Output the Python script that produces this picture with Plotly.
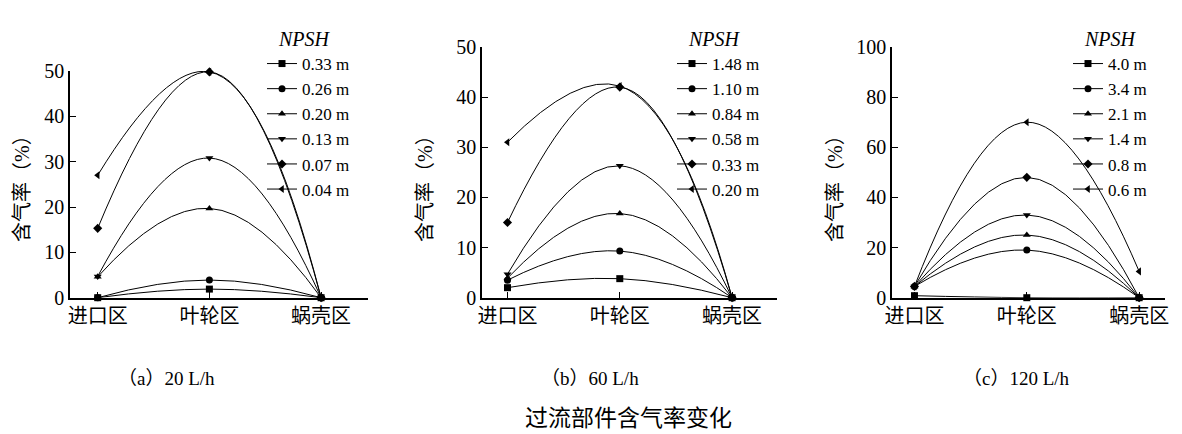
import plotly.graph_objects as go

# categories along the flow path
categories = ["进口区", "叶轮区", "蜗壳区"]

# (a) 20 L/h
npsh_a = ["0.33 m", "0.26 m", "0.20 m", "0.13 m", "0.07 m", "0.04 m"]
void_a = [
    [0.0, 1.9, 0.0],
    [0.0, 3.9, 0.0],
    [4.6, 19.7, 0.0],
    [4.7, 30.8, 0.0],
    [15.3, 49.8, 0.0],
    [27.0, 49.8, 0.0],
]

# (b) 60 L/h
npsh_b = ["1.48 m", "1.10 m", "0.84 m", "0.58 m", "0.33 m", "0.20 m"]
void_b = [
    [2.0, 3.8, 0.0],
    [3.5, 9.3, 0.0],
    [3.9, 16.8, 0.0],
    [4.7, 26.3, 0.0],
    [15.0, 42.0, 0.0],
    [31.0, 42.2, 0.0],
]

# (c) 120 L/h
npsh_c = ["4.0 m", "3.4 m", "2.1 m", "1.4 m", "0.8 m", "0.6 m"]
void_c = [
    [0.8, 0.0, 0.0],
    [4.5, 19.0, 0.0],
    [4.5, 25.0, 0.0],
    [4.5, 33.0, 0.0],
    [4.5, 48.0, 0.0],
    [4.5, 70.0, 10.5],
]

captions = ["（a）20 L/h", "（b）60 L/h", "（c）120 L/h"]
title = "过流部件含气率变化"
ytitle = "含气率（%）"

SYMBOLS = ["square", "circle", "triangle-up", "triangle-down", "diamond", "triangle-left"]
SERIF = "Liberation Serif"
CJK = "Liberation Serif, Noto Sans CJK SC"

# page body keeps an 8px margin, so the figure is a bit smaller than the window
PAD = 8
W, H = 1182 - PAD, 434 - PAD


def px_x(px):
    return (px - PAD) / W


def px_y(px):
    return 1 - (px - PAD) / H


panels = [
    # names, values, x-domain px, top px, x-range, y-max, dtick, legend x px, ylabel x px, caption x px
    (npsh_a, void_a, (70, 368), 71, [-0.248, 2.42], 50, 10, 262, 22, 166),
    (npsh_b, void_b, (482, 777), 47, [-0.227, 2.40], 50, 10, 672, 425, 590),
    (npsh_c, void_c, (892, 1165), 47, [-0.20, 2.23], 100, 20, 1068, 835, 1016),
]

fig = go.Figure()
layout = {}
annotations = []
zero_px = 297.7

for p, (names, vals, xd, top, xr, ymax, dt, lx, ylx, capx) in enumerate(panels):
    sfx = "" if p == 0 else str(p + 1)
    for i, (name, v) in enumerate(zip(names, vals)):
        fig.add_trace(go.Scatter(
            x=categories, y=v, name=name, mode="lines+markers",
            line=dict(color="black", width=1, shape="spline", smoothing=1.3),
            marker=dict(symbol=SYMBOLS[i], size=7, color="black"),
            xaxis="x" + sfx, yaxis="y" + sfx, legend="legend" + sfx,
            cliponaxis=False,
        ))
    layout["xaxis" + sfx] = dict(
        domain=[px_x(xd[0]), px_x(xd[1])], anchor="y" + sfx, type="category",
        range=xr, showline=True, linecolor="black", linewidth=1.5,
        ticks="inside", ticklen=6, tickcolor="black", showgrid=False, zeroline=False,
        tickfont=dict(family=CJK, size=20, color="black"),
    )
    layout["yaxis" + sfx] = dict(
        domain=[px_y(zero_px), px_y(top)], anchor="x" + sfx,
        range=[0, ymax], dtick=dt, showline=True, linecolor="black", linewidth=1.5,
        ticks="inside", ticklen=6, tickcolor="black", showgrid=False, zeroline=False,
        tickfont=dict(family=SERIF, size=20, color="black"),
    )
    layout["legend" + sfx] = dict(
        x=px_x(lx), y=px_y(20), xanchor="left", yanchor="top",
        bgcolor="rgba(0,0,0,0)", itemwidth=30, tracegroupgap=0,
        title=dict(text="&nbsp;&nbsp;&nbsp;<i>NPSH</i>",
                   font=dict(family=SERIF, size=20, color="black")),
        font=dict(family=SERIF, size=17, color="black"),
    )
    annotations.append(dict(
        text=ytitle, textangle=-90, x=px_x(ylx), y=px_y(184), xref="paper", yref="paper",
        xanchor="center", yanchor="middle",
        showarrow=False, font=dict(family=CJK, size=20, color="black"),
    ))
    annotations.append(dict(
        text=captions[p], x=px_x(capx), y=px_y(378), xref="paper", yref="paper",
        xanchor="center", yanchor="middle",
        showarrow=False, font=dict(family=CJK, size=19, color="black"),
    ))

annotations.append(dict(
    text=title, x=px_x(628), y=px_y(418), xref="paper", yref="paper",
    xanchor="center", yanchor="middle",
    showarrow=False, font=dict(family=CJK, size=23, color="black"),
))

fig.update_layout(
    **layout,
    annotations=annotations,
    width=W, height=H,
    margin=dict(l=0, r=0, t=0, b=0, autoexpand=False),
    paper_bgcolor="white", plot_bgcolor="white",
    showlegend=True,
)

fig.write_html("out.html")
